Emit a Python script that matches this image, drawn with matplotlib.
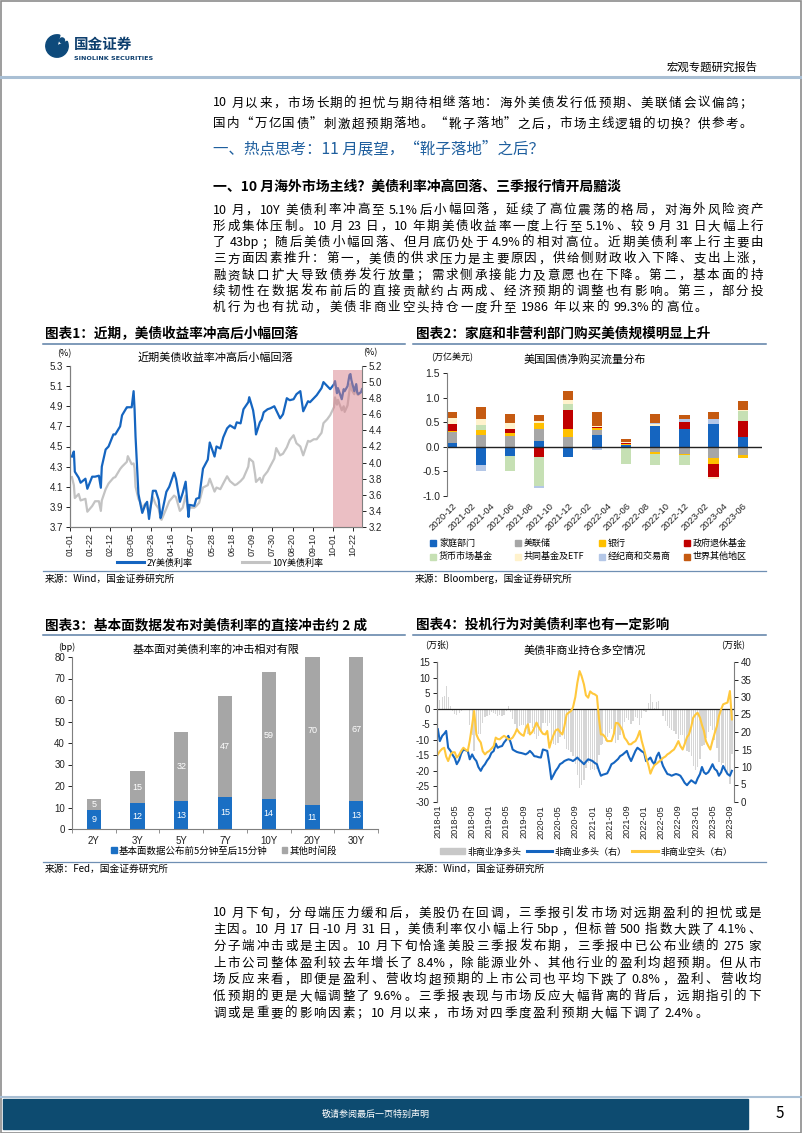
import re
import numpy as np
import pandas as pd
import matplotlib
matplotlib.use("Agg")
import matplotlib.pyplot as plt
from matplotlib.patches import Rectangle, Wedge, Circle, Patch
from matplotlib.lines import Line2D

plt.rcParams["font.family"] = ["Noto Sans CJK SC", "DejaVu Sans"]
plt.rcParams["axes.unicode_minus"] = False

# ---------------- data ----------------
# chart 1: 2Y / 10Y treasury yields, 2023
dates_1 = ['01-03','01-05','01-06','01-10','01-12','01-17','01-19','01-24','01-27','01-31',
           '02-02','02-03','02-07','02-10','02-15','02-17','02-22','02-24','03-01','03-02',
           '03-06','03-08','03-09','03-10','03-13','03-15','03-17','03-20','03-22','03-24',
           '03-28','03-31','04-03','04-05','04-06','04-11','04-14','04-19','04-21','04-25',
           '04-28','05-01','05-04','05-05','05-10','05-12','05-15','05-19','05-24','05-26',
           '05-31','06-02','06-06','06-09','06-13','06-16','06-21','06-23','06-27','06-30',
           '07-05','07-06','07-10','07-12','07-13','07-17','07-19','07-21','07-25','07-28',
           '08-01','08-03','08-07','08-10','08-14','08-17','08-21','08-24','08-28','08-31',
           '09-05','09-07','09-11','09-14','09-19','09-21','09-25','09-28','10-02','10-03',
           '10-05','10-06','10-10','10-12','10-13','10-16','10-18','10-19','10-20','10-23',
           '10-25','10-26','10-27','10-30','10-31']
y2 = [4.40,4.45,4.25,4.19,4.14,4.18,4.08,4.20,4.20,4.21,
      4.09,4.30,4.47,4.50,4.62,4.62,4.70,4.81,4.89,4.89,
      4.89,5.05,4.87,4.60,4.03,3.93,3.84,3.92,3.95,3.78,
      4.06,4.06,3.97,3.79,3.82,4.05,4.10,4.24,4.18,3.95,
      4.04,4.15,3.80,3.92,3.91,3.98,3.99,4.28,4.37,4.54,
      4.40,4.50,4.48,4.59,4.68,4.71,4.68,4.74,4.73,4.87,
      4.94,4.99,4.86,4.73,4.62,4.74,4.77,4.84,4.87,4.88,
      4.90,4.86,4.78,4.82,4.98,4.96,4.97,5.02,5.05,4.85,
      4.95,4.94,4.98,5.01,5.08,5.14,5.10,5.07,5.12,5.15,
      5.03,5.08,4.97,5.07,5.05,5.10,5.21,5.22,5.16,5.05,
      5.12,5.04,5.02,5.04,5.07]
y10 = [3.82,3.72,3.56,3.61,3.53,3.55,3.39,3.46,3.52,3.52,
       3.40,3.53,3.67,3.74,3.81,3.82,3.92,3.95,4.01,4.08,
       3.98,3.99,3.93,3.70,3.55,3.51,3.43,3.49,3.44,3.38,
       3.57,3.48,3.43,3.30,3.29,3.43,3.52,3.59,3.57,3.40,
       3.44,3.59,3.38,3.44,3.44,3.46,3.50,3.69,3.72,3.80,
       3.64,3.69,3.67,3.74,3.83,3.77,3.72,3.73,3.77,3.81,
       3.95,4.05,4.01,3.86,3.76,3.81,3.75,3.83,3.89,3.96,
       4.05,4.18,4.09,4.11,4.19,4.28,4.34,4.24,4.20,4.09,
       4.27,4.26,4.29,4.29,4.37,4.49,4.54,4.59,4.69,4.81,
       4.72,4.78,4.65,4.70,4.63,4.71,4.90,4.98,4.91,4.85,
       4.96,4.85,4.84,4.88,4.88]

# chart 2: quarterly net purchases of treasuries (trillion USD)
quarters = ['2020-12','2021-03','2021-06','2021-09','2021-12','2022-03',
            '2022-06','2022-09','2022-12','2023-03','2023-06']
axis_labels_2 = ['2020-12','2021-02','2021-04','2021-06','2021-08','2021-10','2021-12',
                 '2022-02','2022-04','2022-06','2022-08','2022-10','2022-12',
                 '2023-02','2023-04','2023-06']
sectors = ['家庭部门','美联储','银行','政府退休基金','货币市场基金','共同基金及ETF','经纪商和交易商','世界其他地区']
household = [0.07,-0.38,-0.18,0.11,-0.21,0.25,0.03,0.43,0.37,0.46,0.19]
fed       = [0.23,0.23,0.21,0.25,0.19,0.09,0.00,-0.10,-0.14,-0.23,-0.16]
banks     = [0.02,0.11,0.08,0.12,0.18,0.04,0.02,-0.05,-0.03,-0.11,-0.07]
pension   = [0.15,0.00,0.07,-0.20,0.38,0.03,0.03,0.00,0.14,-0.27,0.34]
mmf       = [-0.02,0.11,-0.31,-0.59,0.11,0.00,-0.34,-0.22,-0.20,0.00,0.20]
mutual    = [0.12,0.12,0.12,0.05,0.09,0.02,0.02,0.03,0.00,-0.04,0.02]
dealers   = [0.00,-0.12,0.00,-0.04,0.00,-0.06,0.00,0.02,0.05,0.11,0.00]
world     = [0.12,0.24,0.18,0.12,0.19,0.27,0.05,0.19,0.09,0.14,0.18]
sector_colors = ['#1565c0','#a6a6a6','#ffc000','#c00000','#c6e0b4','#fff2cc','#b4c7e7','#c55a11']

# chart 3: yield change split (bp)
tenors = ['2Y','3Y','5Y','7Y','10Y','20Y','30Y']
fundamental = [9,12,13,15,14,11,13]
other_time = [5,15,32,47,59,70,67]

# chart 4: non-commercial positions, semi-monthly from 2018-01
net_long = [7.2,2.9,3.7,4.0,7.3,3.8,1.0,-0.7,-1.7,-1.9,
            -1.5,-0.8,-0.5,-0.2,0.0,-5.3,-8.4,-13.5,-7.6,-8.0,
            -8.1,-4.5,-2.8,-2.4,-1.9,-1.2,-1.4,-1.7,-2.5,-2.1,
            -2.5,-1.9,-0.7,1.0,-1.0,-3.4,-4.9,-6.5,-5.7,-5.3,
            -5.1,-7.4,-8.2,-4.7,-6.1,-8.1,-9.7,-8.7,-7.6,-4.5,
            -4.5,-5.7,-4.7,-11.0,-11.5,-11.6,-11.0,-9.2,-8.1,-9.8,
            -13.0,-13.3,-14.0,-15.3,-17.8,-21.3,-25.4,-24.5,-22.8,-19.0,
            -17.6,-19.6,-19.3,-19.6,-19.5,-15.0,-11.8,-11.5,-10.5,-9.2,
            -7.9,-6.6,-8.3,-10.9,-10.2,-8.6,-7.0,-4.4,-2.9,-3.5,
            -4.8,-4.0,-2.8,-3.0,-5.3,-3.0,-0.9,-1.0,1.7,4.6,
            2.0,0.3,2.1,2.6,0.0,-2.3,-4.0,-5.6,-6.2,-7.0,
            -7.2,-8.0,-9.6,-8.5,-8.5,-11.0,-13.7,-13.8,-15.3,-18.3,
            -19.7,-18.8,-16.1,-12.0,-11.8,-9.4,-7.5,-5.5,-6.7,-10.0,
            -12.8,-17.0,-18.0,-17.6,-19.2,-20.4,-24.2,-14.7]
long_pos = [20.8,17.4,18.9,19.5,20.3,15.5,14.6,13.5,12.5,10.8,
            12.0,13.8,15.0,14.8,14.6,12.2,13.6,12.5,11.7,10.0,
            8.9,10.0,10.8,11.8,12.7,14.0,14.6,16.7,15.5,15.8,
            16.0,17.0,17.8,18.9,17.0,15.0,14.6,14.3,14.1,14.0,
            13.8,13.6,14.0,14.6,13.9,13.1,13.0,12.8,12.7,15.0,
            14.8,14.6,10.8,6.5,7.8,8.9,9.8,10.8,11.2,11.7,
            12.0,12.2,12.0,11.7,12.2,12.7,12.0,11.5,10.8,11.5,
            12.2,12.0,11.7,11.2,10.8,9.0,7.5,7.8,8.0,8.2,
            9.5,10.8,11.2,11.7,12.3,13.1,13.5,14.0,14.6,13.0,
            11.7,13.0,14.6,15.5,15.0,14.5,14.1,11.7,12.2,12.7,
            11.5,10.8,13.1,14.1,12.0,10.3,9.0,8.0,7.8,7.5,
            7.8,8.0,7.8,7.5,6.5,5.5,4.8,5.5,6.2,5.8,
            5.3,6.7,8.0,10.0,8.5,8.0,8.5,9.5,10.8,9.5,
            8.9,7.5,8.5,10.3,9.0,8.0,7.5,8.9]
short_pos = [13.6,14.5,15.2,15.5,13.0,11.7,13.6,14.2,14.2,12.7,
             13.5,14.6,15.5,15.0,14.6,17.5,22.0,26.0,19.3,18.0,
             17.0,14.5,13.6,14.2,14.6,15.2,16.0,18.4,18.0,17.9,
             18.5,18.9,18.5,17.9,18.0,18.4,19.5,20.8,19.8,19.3,
             18.9,21.0,22.2,19.3,20.0,21.2,22.7,21.5,20.3,19.5,
             19.3,20.3,15.5,17.5,19.3,20.5,20.8,20.0,19.3,21.5,
             25.0,25.5,26.0,27.0,30.0,34.0,37.4,36.0,33.6,30.5,
             29.8,31.6,31.0,30.8,30.3,24.0,19.3,19.3,18.5,17.4,
             17.4,17.4,19.5,22.6,22.5,21.7,20.5,18.4,17.5,16.5,
             16.5,17.0,17.4,18.5,20.3,17.5,15.0,12.7,10.5,8.1,
             9.5,10.5,11.0,11.5,12.0,12.6,13.0,13.6,14.0,14.5,
             15.0,16.0,17.4,16.0,15.0,16.5,18.5,19.3,21.5,24.1,
             25.0,25.5,24.1,22.0,20.3,17.4,16.0,15.0,17.5,19.5,
             21.7,24.5,26.5,27.9,28.2,28.4,31.7,23.6]

# ---------------- page text ----------------
para_1 = ["10 月以来，市场长期的担忧与期待相继落地：海外美债发行低预期、美联储会议偏鸽；",
          "国内“万亿国债”刺激超预期落地。“靴子落地”之后，市场主线逻辑的切换？供参考。"]
heading = "一、热点思考：11 月展望，“靴子落地”之后？"
subheading = "一、10 月海外市场主线？美债利率冲高回落、三季报行情开局黯淡"
para_2 = ["10 月，10Y 美债利率冲高至 5.1%后小幅回落，延续了高位震荡的格局，对海外风险资产",
          "形成集体压制。10 月 23 日，10 年期美债收益率一度上行至 5.1%、较 9 月 31 日大幅上行",
          "了 43bp；随后美债小幅回落、但月底仍处于 4.9%的相对高位。近期美债利率上行主要由",
          "三方面因素推升：第一，美债的供求压力是主要原因，供给侧财政收入下降、支出上涨，",
          "融资缺口扩大导致债券发行放量；需求侧承接能力及意愿也在下降。第二，基本面的持",
          "续韧性在数据发布前后的直接贡献约占两成、经济预期的调整也有影响。第三，部分投",
          "机行为也有扰动，美债非商业空头持仓一度升至 1986 年以来的 99.3%的高位。"]
para_3 = ["10 月下旬，分母端压力缓和后，美股仍在回调，三季报引发市场对远期盈利的担忧或是",
          "主因。10 月 17 日-10 月 31 日，美债利率仅小幅上行 5bp，但标普 500 指数大跌了 4.1%、",
          "分子端冲击或是主因。10 月下旬恰逢美股三季报发布期，三季报中已公布业绩的 275 家",
          "上市公司整体盈利较去年增长了 8.4%，除能源业外、其他行业的盈利均超预期。但从市",
          "场反应来看，即便是盈利、营收均超预期的上市公司也平均下跌了 0.8%，盈利、营收均",
          "低预期的更是大幅调整了 9.6%。三季报表现与市场反应大幅背离的背后，远期指引的下",
          "调或是重要的影响因素；10 月以来，市场对四季度盈利预期大幅下调了 2.4%。"]

# ---------------- helpers (pixel layout, y from top) ----------------
W, H = 802, 1133
fig = plt.figure(figsize=(W / 100, H / 100), dpi=100)
renderer = fig.canvas.get_renderer()
tok_re = re.compile(r"[A-Za-z0-9.%\-]+| |[^A-Za-z0-9.%\- ]")


def box(l, t, r, b):
    return [l / W, 1 - b / H, (r - l) / W, (b - t) / H]


def txt(x, y, s, size, **kw):
    kw.setdefault("va", "center")
    return fig.text(x / W, 1 - y / H, s, fontsize=size, **kw)


def hline(x0, x1, y, color, lw):
    fig.add_artist(Line2D([x0 / W, x1 / W], [1 - y / H, 1 - y / H], color=color, lw=lw))


def body(lines, y0, dy, size, x0=213, x1=763):
    # justified lines, last line keeps the spacing of the line before it
    em = size * 100 / 72
    gap_prev = 1.5
    for i, line in enumerate(lines):
        y = y0 + dy * i
        arts, widths = [], []
        for t in tok_re.findall(line):
            if t == " ":
                arts.append(None)
                widths.append(2.5)
                continue
            a = txt(0, y, t, size)
            arts.append(a)
            if len(t) == 1 and ord(t) > 127:
                widths.append(em)
            else:
                widths.append(a.get_window_extent(renderer).width)
        n_gaps = sum(a is not None for a in arts) - 1
        if i == len(lines) - 1 and len(lines) > 2:
            gap = gap_prev
        else:
            gap = (x1 - x0 - sum(widths)) / max(n_gaps, 1)
            gap_prev = gap
        x, first = x0, True
        for a, w in zip(arts, widths):
            if a is None:
                x += w
                continue
            if not first:
                x += gap
            a.set_x(x / W)
            x += w
            first = False


def frame(ax, size=7):
    ax.tick_params(direction="out", length=3, width=0.7, labelsize=size, pad=2, colors="#222222")
    for s in ax.spines.values():
        s.set_color("#7f7f7f")
        s.set_linewidth(0.8)
    for lab in ax.get_xticklabels() + ax.get_yticklabels():
        lab.set_family(["Liberation Sans", "DejaVu Sans"])


# page border
fig.add_artist(Rectangle((0.5 / W, 0.5 / H), (W - 1.5) / W, (H - 1.5) / H, fill=False,
                         ec="#8c8c8c", lw=1.2, transform=fig.transFigure))

# logo and header
lax = fig.add_axes(box(44, 32, 70, 60))
lax.set_xlim(-1.15, 1.15)
lax.set_ylim(-1.25, 1.25)
lax.set_aspect("equal")
lax.axis("off")
lax.add_patch(Wedge((0, 0), 1.0, 75, 25, color="#0e4a7b"))
lax.add_patch(Circle((0.45, 0.5), 0.22, color="#0e4a7b"))
txt(74, 44, "国金证券", 10.5, weight="bold", color="#0e3f6e")
txt(74, 58, "SINOLINK SECURITIES", 4.6, weight="bold", color="#0e3f6e", family=["DejaVu Sans"])
txt(758, 67, "宏观专题研究报告", 8.2, ha="right")
hline(0, W, 77, "#a9bfd4", 2.2)

body(para_1, 103, 21, 9, x1=752)
txt(213, 149, heading, 11.2, color="#1f5f9e")
txt(213, 187, subheading, 10, weight="bold")
body(para_2, 210, 16.3, 9)
body(para_3, 913, 16.7, 9, x1=761)

# chart titles, rules and sources
txt(45, 334, "图表1：近期，美债收益率冲高后小幅回落", 9.8, weight="bold")
txt(416, 334, "图表2：家庭和非营利部门购买美债规模明显上升", 9.8, weight="bold")
txt(45, 625, "图表3：基本面数据发布对美债利率的直接冲击约 2 成", 9.8, weight="bold")
txt(416, 625, "图表4：投机行为对美债利率也有一定影响", 9.8, weight="bold")
for y in (344, 635):
    hline(43, 405, y, "#5b7fa6", 1.1)
    hline(413, 766, y, "#5b7fa6", 1.1)
for y in (571, 862):
    hline(43, 766, y, "#6f8fb3", 0.9)
txt(45, 579, "来源：Wind，国金证券研究所", 7)
txt(415, 579, "来源：Bloomberg，国金证券研究所", 7)
txt(45, 869, "来源：Fed，国金证券研究所", 7)
txt(415, 869, "来源：Wind，国金证券研究所", 7)

# footer
hline(0, W, 1097, "#a9bfd4", 1.5)
fig.add_artist(Rectangle((3 / W, 1 - 1129 / H), 745 / W, 30 / H, color="#0d4b70",
                         transform=fig.transFigure))
txt(376, 1114, "敬请参阅最后一页特别声明", 6.5, ha="center", color="white")
txt(780, 1114, "5", 11, ha="center")

# ---------------- chart 1 ----------------
blue, grey = "#1565c0", "#c3c3c3"
d1 = pd.to_datetime(["2023-" + s for s in dates_1])
ax1 = fig.add_axes(box(70, 366, 362, 527))
ax1b = ax1.twinx()
ax1b.plot(d1, y10, color=grey, lw=1.6)
ax1.plot(d1, y2, color=blue, lw=1.6)
ax1.set_zorder(ax1b.get_zorder() + 1)
ax1.patch.set_visible(False)
ax1.axvspan(pd.Timestamp("2023-10-01"), pd.Timestamp("2023-10-31"), ymin=0, ymax=0.975,
            color="#d9808a", alpha=0.5, lw=0, zorder=5)
ax1.set_xlim(pd.Timestamp("2023-01-01"), pd.Timestamp("2023-10-31"))
lt = np.arange(3.7, 5.31, 0.2)
rt = np.arange(3.2, 5.21, 0.2)
ax1.set_ylim(3.7, 5.3)
ax1.set_yticks(lt)
ax1.set_yticklabels([f"{v:.1f}" for v in lt])
ax1b.set_ylim(3.2, 5.2)
ax1b.set_yticks(rt)
ax1b.set_yticklabels([f"{v:.1f}" for v in rt])
ticks1 = pd.date_range("2023-01-01", periods=15, freq="21D")
ax1.set_xticks(ticks1)
ax1.set_xticklabels([t.strftime("%m-%d") for t in ticks1], rotation=90)
for a in (ax1, ax1b):
    frame(a)
    a.spines["top"].set_visible(False)
ax1.spines["right"].set_visible(False)
ax1.tick_params(axis="x", labelsize=6.5, pad=1.5)
txt(215, 358, "近期美债收益率冲高后小幅回落", 8, ha="center")
txt(64, 354, "(%)", 6.5, ha="center")
txt(370, 353, "(%)", 6.5, ha="center")
fig.legend([Line2D([], [], color=blue, lw=2.2), Line2D([], [], color=grey, lw=2.2)],
           ["2Y美债利率", "10Y美债利率"], loc="center", bbox_to_anchor=(220 / W, 1 - 563 / H),
           ncol=2, frameon=False, fontsize=6.5, handlelength=3, columnspacing=5.5,
           handletextpad=0.3, borderpad=0.1)

# ---------------- chart 2 ----------------
ax2 = fig.add_axes(box(447, 373, 762, 496))
xq = np.arange(0, 31, 3)
series_2 = [household, fed, banks, pension, mmf, mutual, dealers, world]
pos_base = np.zeros(len(quarters))
neg_base = np.zeros(len(quarters))
for vals, col in zip(series_2, sector_colors):
    v = np.array(vals)
    pos = np.where(v > 0, v, 0)
    neg = np.where(v < 0, v, 0)
    ax2.bar(xq, pos, bottom=pos_base, width=1.05, color=col, lw=0)
    ax2.bar(xq, neg, bottom=neg_base, width=1.05, color=col, lw=0)
    pos_base += pos
    neg_base += neg
ax2.axhline(0, color="#222222", lw=1.0)
ax2.set_xlim(-0.5, 32)
ax2.set_ylim(-1.0, 1.5)
yt2 = np.arange(-1.0, 1.51, 0.5)
ax2.set_yticks(yt2)
ax2.set_yticklabels([f"{v:.1f}" for v in yt2])
ax2.set_xticks(np.arange(0, 31, 2))
ax2.set_xticklabels(axis_labels_2, rotation=45, ha="right", rotation_mode="anchor")
frame(ax2, 7.5)
ax2.tick_params(axis="x", length=0, labelsize=6.8, pad=4)
for s in ("top", "right", "bottom"):
    ax2.spines[s].set_visible(False)
txt(585, 359, "美国国债净购买流量分布", 8, ha="center")
txt(452, 358, "(万亿美元)", 6.5, ha="center")
for i, (name, col) in enumerate(zip(sectors, sector_colors)):
    x = 430 + (i % 4) * 84.5
    y = 543 + (i // 4) * 13.5
    fig.add_artist(Rectangle((x / W, 1 - (y + 3) / H), 6 / W, 6 / H, color=col,
                             transform=fig.transFigure))
    txt(x + 9, y, name, 6.5)

# ---------------- chart 3 ----------------
ax3 = fig.add_axes(box(72, 657, 378, 829))
x3 = np.arange(len(tenors))
c_f, c_o = "#1a6fc4", "#a6a6a6"
ax3.bar(x3, fundamental, width=0.33, color=c_f, lw=0)
ax3.bar(x3, other_time, bottom=fundamental, width=0.33, color=c_o, lw=0)
for i in range(len(tenors)):
    ax3.text(x3[i], fundamental[i] / 2, str(fundamental[i]), ha="center", va="center",
             color="white", fontsize=6.5, family=["Liberation Sans"])
    ax3.text(x3[i], fundamental[i] + other_time[i] / 2, str(other_time[i]), ha="center",
             va="center", color="white", fontsize=6.5, family=["Liberation Sans"])
ax3.set_xlim(-0.5, 6.5)
ax3.set_ylim(0, 80)
ax3.set_yticks(np.arange(0, 81, 10))
ax3.set_xticks(x3)
ax3.set_xticklabels(tenors)
ax3.set_xticks(np.arange(-0.5, 7, 1), minor=True)
frame(ax3)
ax3.tick_params(axis="x", which="major", length=0, pad=5)
ax3.tick_params(axis="x", which="minor", length=3, direction="out", color="#7f7f7f")
for s in ("top", "right"):
    ax3.spines[s].set_visible(False)
txt(216, 650, "基本面对美债利率的冲击相对有限", 8, ha="center")
txt(67, 647, "(bp)", 6.5, ha="center")
fig.legend([Patch(color=c_f), Patch(color=c_o)], ["基本面数据公布前5分钟至后15分钟", "其他时间段"],
           loc="center", bbox_to_anchor=(224 / W, 1 - 851 / H), ncol=2, frameon=False,
           fontsize=6.8, handlelength=0.6, handleheight=0.6, handletextpad=0.2,
           columnspacing=1.5)

# ---------------- chart 4 ----------------
d4 = pd.date_range("2018-01-01", periods=len(long_pos), freq="SMS")
ax4 = fig.add_axes(box(437, 662, 734, 802))
ax4b = ax4.twinx()
ax4.bar(d4, net_long, width=9, color="#d6d6d6", lw=0)
ax4.axhline(0, color="#222222", lw=0.9)
ax4b.plot(d4, long_pos, color=blue, lw=1.5)
ax4b.plot(d4, short_pos, color="#ffc83d", lw=1.5)
ax4.set_xlim(pd.Timestamp("2017-12-26"), pd.Timestamp("2023-09-30"))
ax4.set_ylim(-30, 15)
ax4.set_yticks(np.arange(-30, 16, 5))
ax4b.set_ylim(0, 40)
ax4b.set_yticks(np.arange(0, 41, 5))
ticks4 = pd.date_range("2018-01-01", "2023-09-01", freq="4MS")
ax4.set_xticks(ticks4)
ax4.set_xticklabels([t.strftime("%Y-%m") for t in ticks4], rotation=90)
for a in (ax4, ax4b):
    frame(a)
    a.spines["top"].set_visible(False)
    a.spines["bottom"].set_visible(False)
ax4.spines["right"].set_visible(False)
ax4.tick_params(axis="x", length=0, labelsize=6.6)
txt(585, 651, "美债非商业持仓多空情况", 8, ha="center")
txt(437, 644, "(万张)", 6.5, ha="center")
txt(733, 644, "(万张)", 6.5, ha="center")
fig.legend([Patch(color="#c8c8c8"), Line2D([], [], color=blue, lw=2.2),
            Line2D([], [], color="#ffc83d", lw=2.2)],
           ["非商业净多头", "非商业多头（右）", "非商业空头（右）"], loc="center",
           bbox_to_anchor=(586 / W, 1 - 852 / H), ncol=3, frameon=False, fontsize=6.5,
           handlelength=2.8, handleheight=0.6, handletextpad=0.3, columnspacing=0.6)

fig.savefig("out.png", dpi=100)
